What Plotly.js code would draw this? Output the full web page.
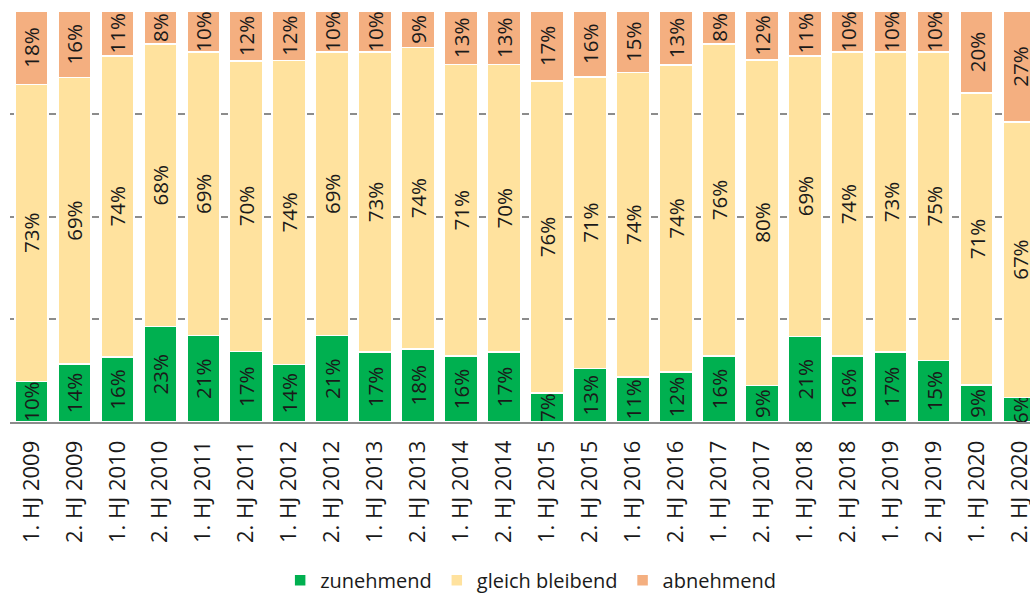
<!DOCTYPE html>
<html>
<head>
<meta charset="utf-8">
<script src="https://cdn.plot.ly/plotly-3.0.1.min.js"></script>
<style>
  html, body { margin: 0; padding: 0; background: #fff; overflow: hidden; }
  #chart { width: 1041px; height: 595px; }
</style>
</head>
<body>
<div id="chart"></div>
<script>
/* Halbjahres-Einschätzung: zunehmend / gleich bleibend / abnehmend (100 % gestapelt) */

const CATEGORIES = [
  '1. HJ 2009', '2. HJ 2009', '1. HJ 2010', '2. HJ 2010', '1. HJ 2011', '2. HJ 2011',
  '1. HJ 2012', '2. HJ 2012', '1. HJ 2013', '2. HJ 2013', '1. HJ 2014', '2. HJ 2014',
  '1. HJ 2015', '2. HJ 2015', '1. HJ 2016', '2. HJ 2016', '1. HJ 2017', '2. HJ 2017',
  '1. HJ 2018', '2. HJ 2018', '1. HJ 2019', '2. HJ 2019', '1. HJ 2020', '2. HJ 2020',
];

const ZUNEHMEND = [10, 14, 16, 23, 21, 17, 14, 21, 17, 18, 16, 17, 7, 13, 11, 12, 16, 9, 21, 16, 17, 15, 9, 6];
const GLEICH    = [73, 69, 74, 68, 69, 70, 74, 69, 73, 74, 71, 70, 76, 71, 74, 74, 76, 80, 69, 74, 73, 75, 71, 67];
const ABNEHMEND = [18, 16, 11, 8, 10, 12, 12, 10, 10, 9, 13, 13, 17, 16, 15, 13, 8, 12, 11, 10, 10, 10, 20, 27];

const COLORS = {
  green:  '#00B050',
  yellow: '#FFE29E',
  orange: '#F4AF80',
  axis:   '#8C8C8C',
  text:   '#1A1A1A',
};

const FONT = 'Open Sans, sans-serif';

function series(name, values, color) {
  return {
    type: 'bar',
    name: name,
    x: CATEGORIES,
    y: values,
    text: values.map(v => v + '%'),
    textposition: 'inside',
    insidetextanchor: 'middle',
    textangle: -90,
    constraintext: 'none',
    textfont: { family: FONT, size: 20.5, color: COLORS.text },
    marker: { color: color, line: { color: '#fff', width: 1.5 } },
    hovertemplate: '%{x}: %{y}%<extra>' + name + '</extra>',
  };
}

const traces = [
  series('zunehmend', ZUNEHMEND, COLORS.green),
  series('gleich bleibend', GLEICH, COLORS.yellow),
  series('abnehmend', ABNEHMEND, COLORS.orange),
];

// one short grey dash centred in each gap between the bars (period = one category)
const GRID_DASH = '3.5px,35.96px,3.5px,0px';

const layout = {
  width: 1041,
  height: 595,
  paper_bgcolor: '#fff',
  plot_bgcolor: '#fff',
  font: { family: FONT, color: COLORS.text, size: 20 },
  margin: { t: 11, r: 0, b: 173, l: 10, autoexpand: false },
  barmode: 'stack',
  barnorm: 'percent',
  bargap: 0.23,
  showlegend: true,
  legend: {
    orientation: 'h',
    x: 0.505, xanchor: 'center',
    y: -0.385, yanchor: 'middle',
    font: { family: FONT, size: 20, color: COLORS.text },
    traceorder: 'normal',
  },
  xaxis: {
    type: 'category',
    automargin: false,
    tickangle: -90,
    tickfont: { family: FONT, size: 22, color: COLORS.text },
    showline: true,
    linecolor: COLORS.axis,
    linewidth: 2,
    ticks: '',
    showgrid: false,
    ticklabelstandoff: 8,
  },
  yaxis: {
    range: [0, 100],
    dtick: 25,
    automargin: false,
    showticklabels: false,
    showgrid: true,
    gridcolor: COLORS.axis,
    gridwidth: 2,
    griddash: GRID_DASH,
    zeroline: false,
  },
};

Plotly.newPlot('chart', traces, layout, { displayModeBar: false, responsive: false });
</script>
</body>
</html>
